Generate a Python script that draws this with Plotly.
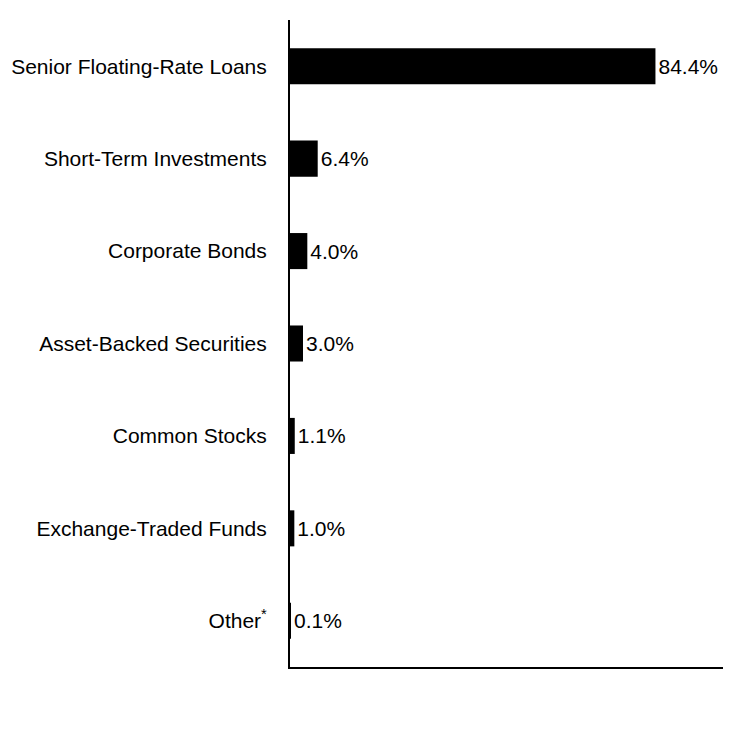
import plotly.graph_objects as go

categorias = ["Senior Floating-Rate Loans", "Short-Term Investments", "Corporate Bonds",
              "Asset-Backed Securities", "Common Stocks", "Exchange-Traded Funds",
              "Other<sup>*</sup>"]
valores = [84.4, 6.4, 4.0, 3.0, 1.1, 1.0, 0.1]
rotulos = ["84.4%", "6.4%", "4.0%", "3.0%", "1.1%", "1.0%", "0.1%"]

fig = go.Figure(go.Bar(
    x=valores,
    y=categorias,
    orientation="h",
    marker=dict(color="#000000", line=dict(width=0)),
    text=rotulos,
    textposition="outside",
    textfont=dict(family="Arial, Liberation Sans", size=21, color="#000000"),
    cliponaxis=False,
))

# a pagina tem 8px de margem no body, por isso as margens compensam
fig.update_layout(
    width=744,
    height=756,
    margin=dict(l=282, r=29, t=12, b=97),
    paper_bgcolor="white",
    plot_bgcolor="white",
    bargap=0.61,
    showlegend=False,
    font=dict(family="Arial, Liberation Sans", size=21, color="#000000"),
)
fig.update_xaxes(range=[0, 100], showticklabels=False, showgrid=False, zeroline=False,
                 showline=True, linecolor="#000000", linewidth=2, ticks="")
fig.update_yaxes(autorange="reversed", showgrid=False, zeroline=False, showline=True,
                 linecolor="#000000", linewidth=2, ticks="", ticklabelstandoff=17,
                 tickfont=dict(size=21), automargin=False)

fig.write_html("out.html")
